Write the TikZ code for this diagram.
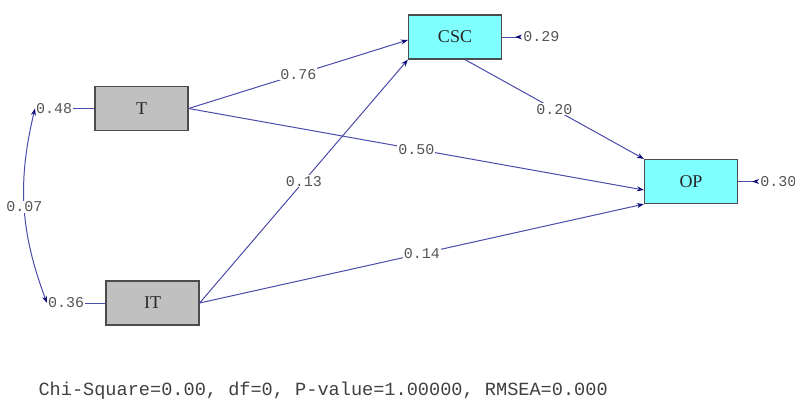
\documentclass[tikz,border=0pt]{standalone}
\usepackage{fontspec}
\setmainfont{Liberation Serif}
\setmonofont{Liberation Mono}
\usetikzlibrary{arrows.meta,positioning,calc}
\definecolor{pathblue}{RGB}{75,75,170}
\definecolor{tipblue}{RGB}{10,10,120}
\definecolor{boxgray}{RGB}{192,192,192}
\definecolor{boxcyan}{RGB}{128,255,255}
\definecolor{numgray}{RGB}{85,85,85}
\tikzset{
    %Define standard arrow tip
    >={Stealth[length=7pt,width=5pt,color=tipblue]},
    %Define style for boxes
    obsnode/.style={
             rectangle,
             draw=black!70, line width=1.2pt,
             minimum width=93pt, minimum height=44pt,
             inner sep=0pt, text=black!85,
             font=\fontsize{18}{20}\selectfont},
    exonode/.style={obsnode, fill=boxgray},
    endonode/.style={obsnode, fill=boxcyan},
    % Define style for estimates
    numlabel/.style={
             fill=white, inner sep=1pt,
             text=numgray,
             font=\ttfamily\fontsize{15}{16}\selectfont},
    % Define arrow style
    patharrow/.style={
            ->,
            draw=pathblue,
            line width=1pt},
    errarrow/.style={
            -{Stealth[reversed,length=7pt,width=5pt,color=tipblue]},
            draw=pathblue,
            line width=1pt},
    varline/.style={
            draw=pathblue,
            line width=1pt},
    covarrow/.style={
            <->,
            draw=pathblue,
            line width=1pt}
}

\begin{document}
\begin{tikzpicture}[x=1pt, y=-1pt]
 \useasboundingbox (0,0) rectangle (795,402);
 \node[exonode] (T) at (141.5,108.5) {T};
 \node[exonode] (IT) at (152.5,303) {IT};
 \node[endonode] (CSC) at (455,37) {CSC};
 \node[endonode] (OP) at (691,181.5) {OP};
 % variances and errors
 \node[numlabel, left=21pt of T.west] (varT) {0.48};
 \node[numlabel, left=20pt of IT.west] (varIT) {0.36};
 \node[numlabel, right=20pt of CSC.east] (errCSC) {0.29};
 \node[numlabel, right=21pt of OP.east] (errOP) {0.30};
 \path (varT) edge[varline] (T)
       (varIT) edge[varline] (IT)
       (CSC) edge[errarrow] (errCSC)
       (OP) edge[errarrow] (errOP);
 \path (varT.west) edge[covarrow, bend right=17] node[numlabel] {0.07} (varIT.west);
 % structural paths
 \path (T.east) edge[patharrow] node[numlabel] {0.76} ($(CSC.west)+(0,3)$)
       (T.east) edge[patharrow] node[numlabel] {0.50} ($(OP.west)+(0,8.5)$)
       (IT.east) edge[patharrow] node[numlabel] {0.13} (CSC.south west)
       (IT.east) edge[patharrow] node[numlabel] {0.14} (OP.south west)
       ($(CSC.south)+(10,0)$) edge[patharrow] node[numlabel] {0.20} (OP.north west);
 \node[anchor=west, text=black!75, font=\ttfamily\fontsize{18.6}{20}\selectfont] (fit) at (35,391) {Chi-Square=0.00, df=0, P-value=1.00000, RMSEA=0.000};
\end{tikzpicture}
\end{document}
